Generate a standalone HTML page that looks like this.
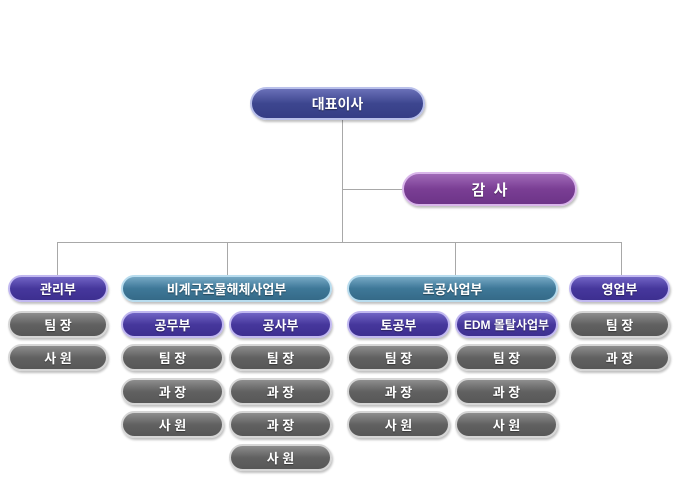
<!DOCTYPE html>
<html><head><meta charset="utf-8"><style>
body{margin:0;width:681px;height:500px;background:#fff;position:relative;overflow:hidden;font-family:"Liberation Sans","Noto Sans CJK KR",sans-serif}
.l{position:absolute;background:#a8a8a8}
.b{position:absolute;box-sizing:border-box;border-radius:15px;color:#fff;font-weight:bold;font-size:13px;display:flex;align-items:center;justify-content:center;box-shadow:1px 2px 2px rgba(0,0,0,.25);text-shadow:0 1px 1px rgba(0,0,0,.4);height:27px;border:2px solid}
.blue{background:linear-gradient(#6a70b8,#3d468f 50%,#353d85);border-color:#b9c0ea}
.pur{background:linear-gradient(#a06ab8,#7a3e94 50%,#6d3488);border-color:#d9b6ea}
.teal{background:linear-gradient(#76a8c4,#3e7898 50%,#356a88);border-color:#b8dcee}
.ind{background:linear-gradient(#7064c4,#46379c 50%,#3d2f90);border-color:#c1b8f0}
.g{background:linear-gradient(#8e8e8e,#616161 50%,#575757);border-color:#d6d6d6}
</style></head><body>
<div class="l" style="left:342px;top:120px;width:1px;height:122px"></div>
<div class="l" style="left:342px;top:189px;width:62px;height:1px"></div>
<div class="l" style="left:57px;top:242px;width:565px;height:1px"></div>
<div class="l" style="left:57px;top:242px;width:1px;height:33px"></div>
<div class="l" style="left:227px;top:242px;width:1px;height:33px"></div>
<div class="l" style="left:455px;top:242px;width:1px;height:33px"></div>
<div class="l" style="left:621px;top:242px;width:1px;height:33px"></div>

<div class="b blue" style="left:250px;top:87px;width:175px;height:33px;border-radius:17px;font-size:14px">대표이사</div>
<div class="b pur" style="left:402px;top:172px;width:175px;height:34px;border-radius:17px;font-size:15px">감&nbsp;&nbsp;사</div>

<div class="b ind" style="left:8px;top:275px;width:100px">관리부</div>
<div class="b teal" style="left:121px;top:275px;width:211px">비계구조물해체사업부</div>
<div class="b teal" style="left:347px;top:275px;width:211px">토공사업부</div>
<div class="b ind" style="left:569px;top:275px;width:101px">영업부</div>

<div class="b g" style="left:8px;top:311px;width:100px">팀 장</div>
<div class="b g" style="left:8px;top:344px;width:100px">사 원</div>

<div class="b ind" style="left:121px;top:311px;width:103px">공무부</div>
<div class="b g" style="left:121px;top:344px;width:103px">팀 장</div>
<div class="b g" style="left:121px;top:378px;width:103px">과 장</div>
<div class="b g" style="left:121px;top:411px;width:103px">사 원</div>

<div class="b ind" style="left:229px;top:311px;width:103px">공사부</div>
<div class="b g" style="left:229px;top:344px;width:103px">팀 장</div>
<div class="b g" style="left:229px;top:378px;width:103px">과 장</div>
<div class="b g" style="left:229px;top:411px;width:103px">과 장</div>
<div class="b g" style="left:229px;top:444px;width:103px">사 원</div>

<div class="b ind" style="left:347px;top:311px;width:103px">토공부</div>
<div class="b g" style="left:347px;top:344px;width:103px">팀 장</div>
<div class="b g" style="left:347px;top:378px;width:103px">과 장</div>
<div class="b g" style="left:347px;top:411px;width:103px">사 원</div>

<div class="b ind" style="left:455px;top:311px;width:103px;font-size:12px">EDM 몰탈사업부</div>
<div class="b g" style="left:455px;top:344px;width:103px">팀 장</div>
<div class="b g" style="left:455px;top:378px;width:103px">과 장</div>
<div class="b g" style="left:455px;top:411px;width:103px">사 원</div>

<div class="b g" style="left:569px;top:311px;width:101px">팀 장</div>
<div class="b g" style="left:569px;top:344px;width:101px">과 장</div>
</body></html>
